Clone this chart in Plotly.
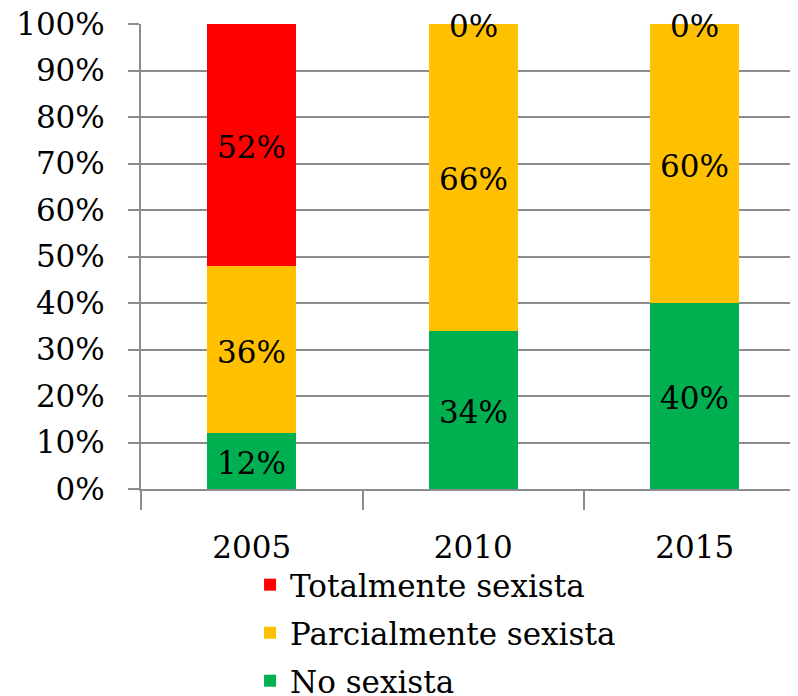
import plotly.graph_objects as go

years = ["2005", "2010", "2015"]
no_sexista = [12, 34, 40]
parcial = [36, 66, 60]
total = [52, 0, 0]
series_names = ["No sexista", "Parcialmente sexista", "Totalmente sexista"]
series_colors = ["#00B050", "#FFC000", "#FF0000"]
y_ticks = [0, 10, 20, 30, 40, 50, 60, 70, 80, 90, 100]

FONT = "DejaVu Serif"
series = [no_sexista, parcial, total]
legend_ids = ["legend3", "legend2", "legend"]
legend_y = [-0.413, -0.310, -0.2065]

fig = go.Figure()
for name, vals, col, lg in zip(series_names, series, series_colors, legend_ids):
    fig.add_trace(go.Bar(
        x=years, y=vals, name=name, marker=dict(color=col, line=dict(width=0)),
        legend=lg, hoverinfo="skip",
    ))

# data labels at segment centers (x given as category index)
base = [0] * len(years)
for vals in series:
    for i, v in enumerate(vals):
        fig.add_annotation(
            x=i, y=base[i] + v / 2, xref="x", yref="y", text=f"{v}%", showarrow=False,
            yshift=-2, font=dict(family=FONT, size=31, color="#000"),
        )
        base[i] += v

legend_common = dict(
    orientation="v", x=0.166, xanchor="left", yanchor="middle",
    font=dict(family=FONT, size=31), bgcolor="rgba(0,0,0,0)",
)
fig.update_layout(
    width=790, height=688,
    barmode="stack", bargap=0.6,
    plot_bgcolor="white", paper_bgcolor="white",
    margin=dict(l=133, r=0, t=16, b=207, autoexpand=False),
    font=dict(family=FONT, size=31, color="#000"),
    showlegend=True,
    legend=dict(y=legend_y[2], **legend_common),
    legend2=dict(y=legend_y[1], **legend_common),
    legend3=dict(y=legend_y[0], **legend_common),
)
fig.update_xaxes(
    type="category", range=[-0.5, 2.466], automargin=False,
    showline=True, linecolor="#8C8C8C", linewidth=2,
    ticks="outside", tickson="boundaries", ticklen=19, tickcolor="#8C8C8C", tickwidth=2,
    ticklabelstandoff=30, showgrid=False,
)
fig.update_yaxes(
    range=[0, 100], tickvals=y_ticks, ticktext=[f"{t}%" for t in y_ticks],
    automargin=False, ticklabeloverflow="allow",
    showline=True, linecolor="#8C8C8C", linewidth=2,
    showgrid=True, gridcolor="#8C8C8C", gridwidth=2,
    ticks="outside", ticklen=11, tickcolor="#8C8C8C", tickwidth=2,
    ticklabelstandoff=17, zeroline=False,
)

fig.write_html("out.html")
